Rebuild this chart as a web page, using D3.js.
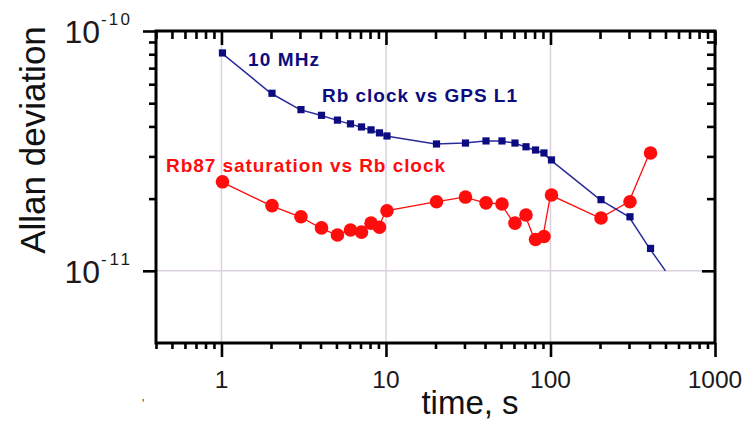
<!DOCTYPE html>
<html>
<head>
<meta charset="utf-8">
<script src="https://cdn.jsdelivr.net/npm/d3@7"></script>
<style>
	body { margin: 0; background: #fff; }
	svg { display: block; font-family: "Liberation Sans", Arial, sans-serif; }
</style>
</head>
<body>
<div id="chart"></div>
<script>
// averaging time, s
var tauBlue = [1, 2, 3, 4, 5, 6, 7, 8, 9, 10, 20, 30, 40, 50, 60, 70, 80, 90, 100, 200, 300, 400, 500];
var adevBlue = [8.1e-11, 5.5e-11, 4.7e-11, 4.45e-11, 4.25e-11, 4.1e-11, 3.98e-11, 3.87e-11, 3.76e-11, 3.65e-11,
	3.38e-11, 3.41e-11, 3.48e-11, 3.48e-11, 3.41e-11, 3.29e-11, 3.19e-11, 3.1e-11, 2.9e-11,
	1.98e-11, 1.68e-11, 1.24e-11, 1.0e-11];
// last blue point has no marker, the line just runs to it
var blueMarkedCount = 22;

var tauRed = [1, 2, 3, 4, 5, 6, 7, 8, 9, 10, 20, 30, 40, 50, 60, 70, 80, 90, 100, 200, 300, 400];
var adevRed = [2.35e-11, 1.87e-11, 1.68e-11, 1.51e-11, 1.41e-11, 1.48e-11, 1.45e-11, 1.58e-11, 1.52e-11, 1.78e-11,
	1.94e-11, 2.03e-11, 1.92e-11, 1.9e-11, 1.58e-11, 1.71e-11, 1.35e-11, 1.39e-11, 2.07e-11,
	1.66e-11, 1.94e-11, 3.1e-11];

var xMajor = [1, 10, 100, 1000];
var xMajorLabels = ["1", "10", "100", "1000"];
var yMajor = [1e-11, 1e-10];
var yMajorExp = ["-11", "-10"];
var labelBlue1 = "10 MHz", labelBlue2 = "Rb clock vs GPS L1", labelRed = "Rb87 saturation vs Rb clock";

var AllanPlot = function(view, plotWidth, plotHeight){
	const s = this;
	const
		LEFT = 156, RIGHT = 715, TOP = 31, BOTTOM = 343,
		BLUE = "#0c0c80", BLUE_LINE = "#2b2b9c",
		RED = "#ff0d0d", GRID = "#d9d2de";

	var svg, x, y;

	s.init = function(){
		svg = d3.select(view).append("svg")
			.attr("width", plotWidth)
			.attr("height", plotHeight);
		x = d3.scaleLog().domain([0.4, 1000]).range([LEFT, RIGHT]);
		y = d3.scaleLog().domain([5e-12, 1e-10]).range([BOTTOM, TOP]);
		s.drawGrid();
		s.drawSeries();
		s.drawFrame();
		s.drawLabels();
	}

	s.drawGrid = function(){
		svg.selectAll("line.vgrid").data(xMajor.slice(0, 3)).enter()
			.append("line")
			.attr("x1", d => x(d)).attr("x2", d => x(d))
			.attr("y1", TOP).attr("y2", BOTTOM)
			.attr("stroke", GRID).attr("stroke-width", 1.5);
		svg.selectAll("line.hgrid").data([1e-11]).enter()
			.append("line")
			.attr("x1", LEFT).attr("x2", RIGHT)
			.attr("y1", d => y(d)).attr("y2", d => y(d))
			.attr("stroke", GRID).attr("stroke-width", 1.5);
	}

	s.drawSeries = function(){
		var blue = tauBlue.map((t, i) => ({t: t, v: adevBlue[i]}));
		var red = tauRed.map((t, i) => ({t: t, v: adevRed[i]}));
		var line = d3.line().x(d => x(d.t)).y(d => y(d.v));

		svg.append("path").datum(red)
			.attr("d", line).attr("fill", "none")
			.attr("stroke", RED).attr("stroke-width", 1.3);
		svg.append("path").datum(blue)
			.attr("d", line).attr("fill", "none")
			.attr("stroke", BLUE_LINE).attr("stroke-width", 1.5);

		svg.selectAll("circle.red").data(red).enter()
			.append("circle")
			.attr("cx", d => x(d.t) + 1).attr("cy", d => y(d.v))
			.attr("r", 6.8).attr("fill", RED);
		svg.selectAll("rect.blue").data(blue.slice(0, blueMarkedCount)).enter()
			.append("rect")
			.attr("x", d => x(d.t) - 3.6 + 1).attr("y", d => y(d.v) - 3.6)
			.attr("width", 7.2).attr("height", 7.2)
			.attr("fill", BLUE);
	}

	s.drawFrame = function(){
		var xMinor = [];
		[0.1, 1, 10, 100].forEach(dec => {
			for (var k = 2; k <= 9; k++) {
				var v = k * dec;
				if (v >= 0.4 && v < 1000) xMinor.push(v);
			}
		});
		var yMinor = [];
		for (var k = 2; k <= 9; k++) yMinor.push(k * 1e-11);

		var xBottom = d3.axisBottom(x).tickValues(xMinor).tickSize(6).tickFormat("");
		var xBottomMajor = d3.axisBottom(x).tickValues(xMajor).tickSize(14).tickFormat("");
		var xTop = d3.axisTop(x).tickValues(xMinor).tickSize(-8).tickFormat("");
		var xTopMajor = d3.axisTop(x).tickValues(xMajor).tickSize(-14).tickFormat("");
		var yLeft = d3.axisLeft(y).tickValues(yMinor).tickSize(7).tickFormat("");
		var yLeftMajor = d3.axisLeft(y).tickValues(yMajor).tickSize(13).tickFormat("");
		var yRight = d3.axisRight(y).tickValues(yMinor).tickSize(-8).tickFormat("");
		var yRightMajor = d3.axisRight(y).tickValues(yMajor).tickSize(-13).tickFormat("");

		[[xBottom, "0," + BOTTOM], [xBottomMajor, "0," + BOTTOM],
		 [xTop, "0," + TOP], [xTopMajor, "0," + TOP],
		 [yLeft, LEFT + ",0"], [yLeftMajor, LEFT + ",0"],
		 [yRight, RIGHT + ",0"], [yRightMajor, RIGHT + ",0"]].forEach(a => {
			var g = svg.append("g")
				.attr("class", "axis")
				.attr("transform", "translate(" + a[1] + ")")
				.call(a[0]);
			g.select(".domain").remove();
			g.selectAll(".tick line").attr("stroke", "#000").attr("stroke-width", 2.6);
		});

		svg.append("rect")
			.attr("x", LEFT).attr("y", TOP)
			.attr("width", RIGHT - LEFT).attr("height", BOTTOM - TOP)
			.attr("fill", "none").attr("stroke", "#000").attr("stroke-width", 3);
	}

	s.drawLabels = function(){
		svg.selectAll("text.xtick").data(xMajor).enter()
			.append("text")
			.attr("x", d => x(d)).attr("y", 388)
			.attr("text-anchor", "middle")
			.attr("font-size", 24.5).attr("fill", "#1a1a1a")
			.text((d, i) => xMajorLabels[i]);

		var yt = svg.selectAll("g.ytick").data(yMajor).enter()
			.append("g")
			.attr("transform", d => "translate(0," + y(d) + ")");
		yt.append("text")
			.attr("x", 100).attr("y", 12)
			.attr("text-anchor", "end")
			.attr("font-size", 32).attr("fill", "#1a1a1a")
			.text("10");
		yt.append("text")
			.attr("x", 101).attr("y", -6)
			.attr("font-size", 17).attr("fill", "#1a1a1a")
			.attr("textLength", 29).attr("lengthAdjust", "spacing")
			.text((d, i) => yMajorExp[i]);

		svg.append("text")
			.attr("transform", "translate(45,140) rotate(-90)")
			.attr("text-anchor", "middle")
			.attr("font-size", 35).attr("fill", "#111")
			.text("Allan deviation");
		svg.append("text")
			.attr("x", 470).attr("y", 414)
			.attr("text-anchor", "middle")
			.attr("font-size", 33).attr("fill", "#111")
			.text("time, s");

		var notes = [
			{text: labelBlue1, x: 248, y: 66, w: 71, c: BLUE},
			{text: labelBlue2, x: 322, y: 102, w: 195, c: BLUE},
			{text: labelRed, x: 166, y: 172, w: 279, c: RED}
		];
		svg.selectAll("text.note").data(notes).enter()
			.append("text")
			.attr("x", d => d.x).attr("y", d => d.y)
			.attr("font-size", 19).attr("font-weight", "bold")
			.attr("fill", d => d.c)
			.attr("textLength", d => d.w).attr("lengthAdjust", "spacing")
			.text(d => d.text);

		// small stray mark under the axis
		svg.append("text")
			.attr("x", 142).attr("y", 408)
			.attr("font-size", 12).attr("fill", "#444")
			.text("'");
	}
}

var plot = new AllanPlot("#chart", 744, 422);
plot.init();
</script>
</body>
</html>
